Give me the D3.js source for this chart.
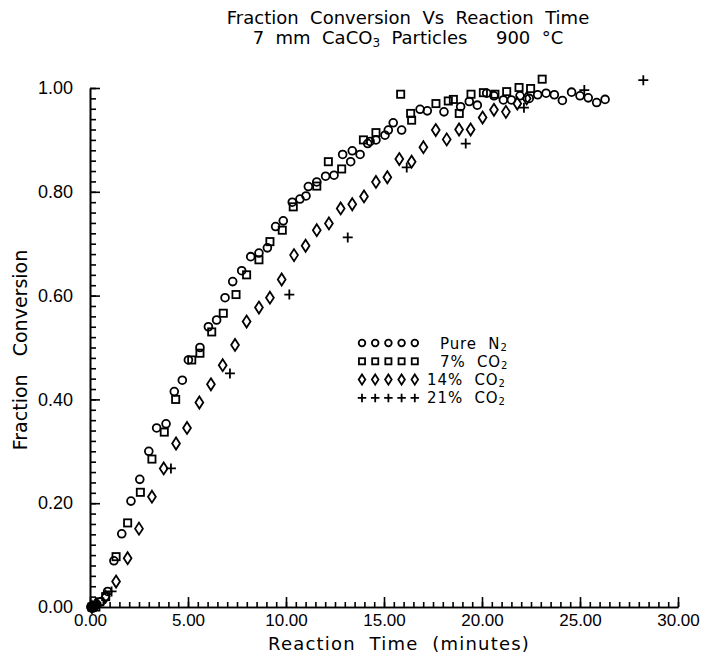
<!DOCTYPE html>
<meta charset="utf-8">
<style>
  body { margin: 0; background: #fff; }
  svg { font-family: "DejaVu Sans", sans-serif; }
  .axis path, .axis line { stroke: #000; stroke-width: 1.6px; fill: none; }
  .axis text { font-size: 18px; fill: #000; }
  .x-major text { font-size: 17px; }
  .mark { fill: none; stroke: #000; stroke-width: 1.8px; }
  .lbl { fill: #000; white-space: pre; }
</style>
<body>
<script src="https://cdn.jsdelivr.net/npm/d3@7"></script>
<script>

  // Pure N2 (circles)
  var n2Time = [0.05, 0.2, 0.35, 0.55, 0.9, 1.22, 1.62, 2.09, 2.54, 3.0, 3.4, 3.88, 4.3, 4.71, 5.02, 5.61,
                6.04, 6.46, 6.89, 7.28, 7.74, 8.2, 8.62, 9.05, 9.47, 9.86, 10.32, 10.71, 11.02, 11.14, 11.57,
                12.02, 12.45, 12.89, 13.3, 13.38, 13.78, 14.17, 14.29, 14.59, 15.05, 15.22, 15.47, 15.9,
                16.84, 17.21, 18.06, 18.91, 19.35, 19.76, 20.24, 20.61, 21.09, 21.5, 21.94, 22.41, 22.84,
                23.27, 23.69, 24.1, 24.57, 25.0, 25.42, 25.85, 26.28];
  var n2Conv = [0.0, 0.0, 0.005, 0.01, 0.03, 0.089, 0.141, 0.204, 0.246, 0.30, 0.345, 0.353, 0.415, 0.437, 0.476, 0.50,
                0.54, 0.553, 0.596, 0.627, 0.648, 0.675, 0.682, 0.692, 0.733, 0.744, 0.78, 0.786, 0.792, 0.81, 0.819,
                0.83, 0.832, 0.872, 0.858, 0.879, 0.872, 0.893, 0.897, 0.90, 0.909, 0.919, 0.933, 0.919,
                0.959, 0.956, 0.954, 0.964, 0.974, 0.967, 0.99, 0.985, 0.977, 0.977, 0.985, 0.98, 0.987,
                0.99, 0.987, 0.976, 0.992, 0.985, 0.981, 0.972, 0.978];

  // 7% CO2 (squares)
  var co7Time = [0.1, 0.3, 0.5, 0.8, 1.33, 1.92, 2.57, 3.16, 3.79, 4.37, 5.19, 5.61, 6.21, 6.8, 7.45, 7.99,
                 8.62, 9.18, 9.81, 10.37, 11.57, 12.16, 12.84, 13.95, 14.59, 15.85, 16.36, 16.41, 17.65, 18.28,
                 18.54, 18.84, 19.44, 20.07, 20.66, 21.26, 21.89, 22.48, 23.07];
  var co7Conv = [0.0, 0.0, 0.01, 0.02, 0.097, 0.162, 0.221, 0.285, 0.337, 0.40, 0.476, 0.489, 0.53, 0.566, 0.602, 0.64,
                 0.669, 0.704, 0.726, 0.771, 0.811, 0.858, 0.844, 0.90, 0.914, 0.988, 0.951, 0.938, 0.97, 0.975,
                 0.978, 0.951, 0.988, 0.991, 0.988, 0.993, 1.001, 0.999, 1.017];

  // 14% CO2 (diamonds)
  var co14Time = [0.1, 0.3, 0.8, 1.33, 1.92, 2.5, 3.16, 3.76, 4.39, 4.95, 5.58, 6.17, 6.77, 7.4, 7.99, 8.62,
                  9.18, 9.78, 10.41, 11.0, 11.57, 12.19, 12.79, 13.38, 13.98, 14.59, 15.17, 15.78, 16.41, 17.01,
                  17.64, 18.2, 18.83, 19.42, 20.03, 20.61, 21.22, 21.8, 22.28];
  var co14Conv = [0.0, 0.005, 0.02, 0.049, 0.094, 0.151, 0.2125, 0.267, 0.315, 0.345, 0.394, 0.429, 0.466, 0.505, 0.55, 0.577,
                  0.596, 0.631, 0.678, 0.696, 0.726, 0.739, 0.768, 0.776, 0.791, 0.819, 0.828, 0.863, 0.858, 0.886,
                  0.919, 0.901, 0.92, 0.92, 0.943, 0.958, 0.954, 0.97, 0.98];

  // 21% CO2 (plus)
  var co21Time = [0.2, 1.1, 4.13, 7.14, 10.17, 13.15, 16.16, 19.17, 22.14, 25.22, 28.23];
  var co21Conv = [0.0, 0.03, 0.267, 0.45, 0.602, 0.712, 0.847, 0.893, 0.962, 0.996, 1.015];

  var legendLabels = [["Pure  N", "2"], ["7%  CO", "2"], ["14%  CO", "2"], ["21%  CO", "2"]];
  var xTickValues = [0, 5, 10, 15, 20, 25, 30];
  var yTickValues = [0, 0.2, 0.4, 0.6, 0.8, 1.0];

  var width = 718, height = 655;

  var svg = d3.select("body").append("svg")
      .attr("width", width)
      .attr("height", height);

  var x = d3.scaleLinear().domain([0, 30]).range([90, 678]);
  var y = d3.scaleLinear().domain([0, 1]).range([607, 88]);

  // marker shapes, k scales them
  var shapes = {
    circle: function(g, k) { g.append("circle").attr("r", 3.9 * k); },
    square: function(g, k) { g.append("rect").attr("x", -3.6 * k).attr("y", -3.6 * k).attr("width", 7.2 * k).attr("height", 7.2 * k); },
    diamond: function(g, k) { g.append("path").attr("d", "M0," + (-6 * k) + "L" + (3.9 * k) + ",0L0," + (6 * k) + "L" + (-3.9 * k) + ",0Z"); },
    plus: function(g, k) { g.append("path").attr("d", "M" + (-5 * k) + ",0H" + (5 * k) + "M0," + (-5 * k) + "V" + (5 * k)); }
  };

  var series = [
    { t: n2Time, f: n2Conv, shape: "circle" },
    { t: co7Time, f: co7Conv, shape: "square" },
    { t: co14Time, f: co14Conv, shape: "diamond" },
    { t: co21Time, f: co21Conv, shape: "plus" }
  ];

  // axes
  var xMinor = d3.range(0, 30.01, 0.5);
  var yMinor = d3.range(0, 1.001, 0.02);

  svg.append("g")
      .attr("class", "axis")
      .attr("transform", "translate(0," + y(0) + ")")
      .call(d3.axisBottom(x).tickValues(xMinor).tickSize(-5).tickSizeOuter(0).tickFormat(""));

  svg.append("g")
      .attr("class", "axis x-major")
      .attr("transform", "translate(0," + y(0) + ")")
      .call(d3.axisBottom(x).tickValues(xTickValues).tickSize(-10).tickSizeOuter(0).tickPadding(7)
          .tickFormat(d3.format(".2f")));

  svg.append("g")
      .attr("class", "axis")
      .attr("transform", "translate(" + x(0) + ",0)")
      .call(d3.axisLeft(y).tickValues(yMinor).tickSize(-6).tickSizeOuter(0).tickFormat(""));

  svg.append("g")
      .attr("class", "axis")
      .attr("transform", "translate(" + x(0) + ",0)")
      .call(d3.axisLeft(y).tickValues(yTickValues).tickSize(-10).tickSizeOuter(0).tickPadding(17)
          .tickFormat(d3.format(".2f")));

  svg.selectAll(".axis .domain").attr("stroke-width", 2);

  // points
  series.forEach(function(s) {
    var g = svg.append("g").attr("class", "mark");
    s.t.forEach(function(t, i) {
      var m = g.append("g").attr("transform", "translate(" + x(t) + "," + y(s.f[i]) + ")");
      shapes[s.shape](m, 1);
    });
  });

  // black blob at origin
  svg.append("circle")
      .attr("cx", x(0.12)).attr("cy", y(0))
      .attr("r", 6).attr("fill", "#000");

  // titles
  svg.append("text").attr("class", "lbl")
      .attr("x", 408).attr("y", 24)
      .attr("font-size", "18px")
      .attr("text-anchor", "middle")
      .text("Fraction  Conversion  Vs  Reaction  Time");

  var t2 = svg.append("text").attr("class", "lbl")
      .attr("x", 408).attr("y", 44)
      .attr("font-size", "18px")
      .attr("text-anchor", "middle");
  t2.append("tspan").text("7  mm  CaCO");
  t2.append("tspan").attr("font-size", "12px").attr("dy", 3).text("3");
  t2.append("tspan").attr("dy", -3).text("  Particles     900  °C");

  svg.append("text").attr("class", "lbl")
      .attr("x", 399).attr("y", 650)
      .attr("font-size", "18px")
      .attr("letter-spacing", "1.2px")
      .attr("text-anchor", "middle")
      .text("Reaction  Time  (minutes)");

  svg.append("text").attr("class", "lbl")
      .attr("transform", "translate(27,350) rotate(-90)")
      .attr("font-size", "19px")
      .attr("text-anchor", "middle")
      .text("Fraction   Conversion");

  // legend
  var legend = svg.append("g");
  var legendX = [440, 440, 427, 427];
  series.forEach(function(s, r) {
    var cy = 343 + r * 18.3;
    var g = legend.append("g").attr("class", "mark");
    for (var k = 0; k < 5; k++) {
      var m = g.append("g").attr("transform", "translate(" + (362 + k * 13.2) + "," + cy + ")");
      shapes[s.shape](m, 0.85);
    }
    var txt = legend.append("text").attr("class", "lbl")
        .attr("x", legendX[r]).attr("y", cy + 5.5)
        .attr("font-size", "15px")
        .attr("letter-spacing", "0.9px");
    txt.append("tspan").text(legendLabels[r][0]);
    txt.append("tspan").attr("font-size", "10px").attr("dy", 2).text(legendLabels[r][1]);
  });

</script>
</body>
